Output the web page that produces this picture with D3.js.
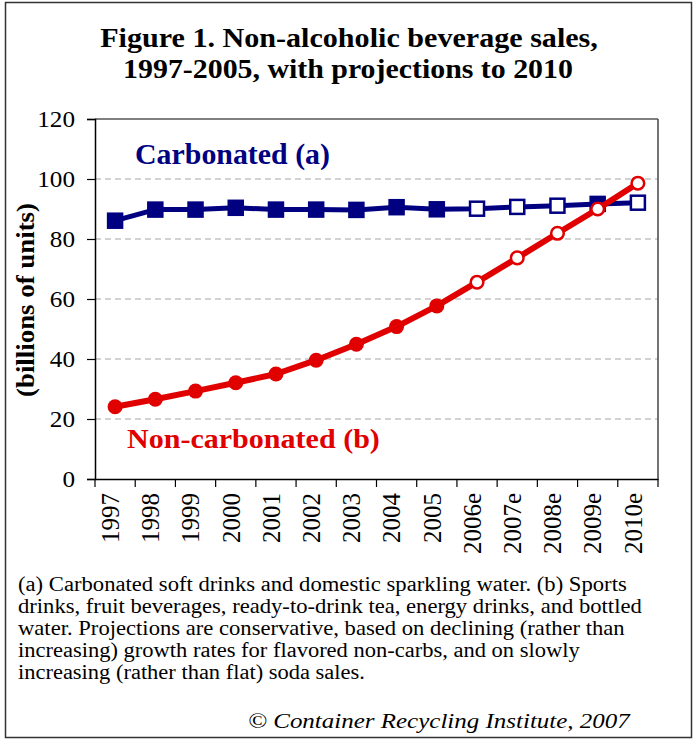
<!DOCTYPE html>
<html><head><meta charset="utf-8">
<script src="https://cdn.jsdelivr.net/npm/d3@7"></script>
<style>body{margin:0;background:#fff}</style>
</head><body><svg id="c" width="694" height="740"></svg>
<script>
const categories = ["1997","1998","1999","2000","2001","2002","2003","2004","2005","2006e","2007e","2008e","2009e","2010e"];
const carbonated = [86.1, 89.8, 89.8, 90.4, 89.8, 89.8, 89.7, 90.6, 89.9, 90.1, 90.7, 91.1, 91.7, 92.1];
const carbonatedFilled = [true,true,true,true,true,true,true,true,true,false,false,false,true,false];
const nonCarbonated = [24.1, 26.6, 29.3, 32.1, 35.0, 39.6, 44.9, 50.8, 57.7, 65.6, 73.7, 81.9, 90.0, 98.6];
const nonCarbonatedFilled = [true,true,true,true,true,true,true,true,true,false,false,false,false,false];
const yTicks = [0,20,40,60,80,100,120];
const gridValues = [20,40,60,80,100];
const titleLines = ["Figure 1. Non-alcoholic beverage sales,", "1997-2005, with projections to 2010"];
const yTitle = "(billions of units)";
const seriesLabels = ["Carbonated (a)", "Non-carbonated (b)"];
const footnoteLines = [
  "(a) Carbonated soft drinks and domestic sparkling water. (b) Sports",
  "drinks, fruit beverages, ready-to-drink tea, energy drinks, and bottled",
  "water. Projections are conservative, based on declining (rather than",
  "increasing) growth rates for flavored non-carbs, and on slowly",
  "increasing (rather than flat) soda sales."
];
const credit = "\u00A9 Container Recycling Institute, 2007";

const FONT = "Liberation Serif";
const NAVY = "#000080", RED = "#e00000";
const svg = d3.select("#c");
const txt = (sel)=>sel.append("text").attr("font-family",FONT).attr("fill","#000");
// fit a text horizontally to a target width by scaling (no textLength)
function fitted(sel, text, ax, ay, len, extra){
  const t = txt(sel).text(text);
  if (extra) extra(t);
  const w = t.node().getComputedTextLength();
  const s = w>0 ? len/w : 1;
  t.attr("transform", `translate(${ax},${ay})${t.attr("data-rot")||""} scale(${s},1)`);
  return t;
}

// outer frame
svg.append("rect").attr("x",5.5).attr("y",2.5).attr("width",686).attr("height",735)
  .attr("fill","#fff").attr("stroke","#333").attr("stroke-width",1.5);

// title
const titleSpec = [{cx:349, y:47, len:498},{cx:348, y:78, len:450}];
titleLines.forEach((t,i)=>{
  fitted(svg, t, titleSpec[i].cx, titleSpec[i].y, titleSpec[i].len,
    s=>s.attr("text-anchor","middle").attr("font-size",28).attr("font-weight","bold"));
});

const L=95, R=658, T=119, B=479;
const x = d3.scaleBand().domain(categories).range([L,R]);
const y = d3.scaleLinear().domain([0,120]).range([B,T]);

// gridlines
svg.append("g").selectAll("line").data(gridValues).join("line")
  .attr("x1",L).attr("x2",R).attr("y1",d=>y(d)).attr("y2",d=>y(d))
  .attr("stroke","#c4c4c4").attr("stroke-width",1.3).attr("stroke-dasharray","6,4");

// frame top/right
svg.append("line").attr("x1",L).attr("x2",R).attr("y1",y(120)).attr("y2",y(120)).attr("stroke","#000").attr("stroke-width",1.2);
svg.append("line").attr("x1",R).attr("x2",R).attr("y1",T).attr("y2",B).attr("stroke","#444").attr("stroke-width",1.5);

// y axis
const ya = svg.append("g").attr("transform",`translate(${L},0)`)
  .call(d3.axisLeft(y).tickValues(yTicks).tickSize(8).tickPadding(12).tickFormat(d3.format("d")));
ya.select(".domain").attr("stroke","#000").attr("stroke-width",1.5);
ya.selectAll(".tick line").attr("stroke","#000").attr("stroke-width",1.2);
ya.selectAll(".tick text").attr("font-size",23).attr("font-family",FONT).attr("fill","#000")
  .each(function(d){
    const w = this.getComputedTextLength();
    const s = (String(d).length*12.6)/w;
    d3.select(this).attr("x",0).attr("transform",`translate(-20,0) scale(${s},1)`);
  });

// x axis
const xa = svg.append("g").attr("transform",`translate(0,${B})`)
  .call(d3.axisBottom(x).tickSize(0).tickFormat(""));
xa.select(".domain").attr("stroke","#000").attr("stroke-width",1.5);
const bounds = categories.map(c=>x(c)).concat([x.range()[1]]);
svg.append("g").selectAll("line").data(bounds).join("line")
  .attr("x1",d=>d).attr("x2",d=>d).attr("y1",B).attr("y2",B+8)
  .attr("stroke","#000").attr("stroke-width",1.2);
svg.append("g").selectAll("text").data(categories).join("text")
  .attr("font-family",FONT).attr("fill","#000")
  .attr("transform",d=>`translate(${x(d)+x.bandwidth()/2-5},${B+14}) rotate(-90)`)
  .attr("text-anchor","end").attr("dy","0.35em").attr("font-size",25)
  .text(d=>d);

// y title
fitted(svg, yTitle, 25, 300, 194,
  s=>s.attr("text-anchor","middle").attr("dy","0.35em").attr("font-size",26).attr("font-weight","bold").attr("data-rot"," rotate(-90)"));

const cx = (c)=>x(c)+x.bandwidth()/2;
const line = d3.line().x(d=>cx(d.c)).y(d=>y(d.v));

// carbonated
const carbData = categories.map((c,i)=>({c, v:carbonated[i], f:carbonatedFilled[i]}));
svg.append("path").datum(carbData).attr("d",line).attr("fill","none")
  .attr("stroke",NAVY).attr("stroke-width",5).attr("stroke-linejoin","round");
const S=14;
svg.append("g").selectAll("rect").data(carbData).join("rect")
  .attr("x",d=>cx(d.c)-S/2).attr("y",d=>y(d.v)-S/2).attr("width",S).attr("height",S)
  .attr("fill",d=>d.f?NAVY:"#fff").attr("stroke",NAVY).attr("stroke-width",2.5);

// non-carbonated
const ncData = categories.map((c,i)=>({c, v:nonCarbonated[i], f:nonCarbonatedFilled[i]}));
svg.append("path").datum(ncData).attr("d",line).attr("fill","none")
  .attr("stroke",RED).attr("stroke-width",6).attr("stroke-linejoin","round");
svg.append("g").selectAll("circle").data(ncData).join("circle")
  .attr("cx",d=>cx(d.c)).attr("cy",d=>y(d.v)).attr("r",d=>d.f?7.5:6.3)
  .attr("fill",d=>d.f?RED:"#fff").attr("stroke",RED).attr("stroke-width",d=>d.f?0:2.5);

// series labels
fitted(svg, seriesLabels[0], 135, 164, 195,
  s=>s.attr("font-size",29).attr("font-weight","bold").attr("fill",NAVY));
fitted(svg, seriesLabels[1], 127, 448, 253,
  s=>s.attr("font-size",28).attr("font-weight","bold").attr("fill",RED));

// footnote
const fnLens = [609, 624, 607, 562, 347];
const fnBase = [591, 613, 635, 657, 679];
footnoteLines.forEach((t,i)=>{
  fitted(svg, t, 18, fnBase[i], fnLens[i], s=>s.attr("font-size",20));
});
fitted(svg, credit, 248, 728, 382, s=>s.attr("font-size",22).attr("font-style","italic"));
</script></body></html>
